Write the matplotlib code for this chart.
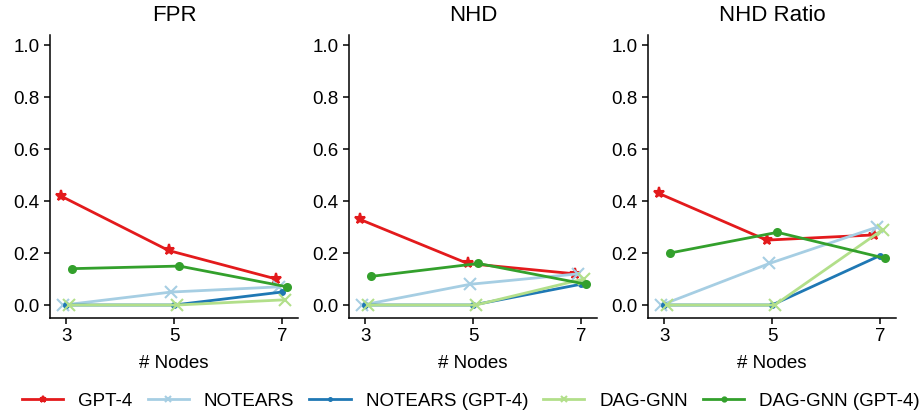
import numpy as np
import matplotlib
matplotlib.use("Agg")
import matplotlib.pyplot as plt

plt.rcParams['font.family'] = ['Liberation Sans', 'DejaVu Sans']

nodes = [3, 5, 7]
metrics = ["FPR", "NHD", "NHD Ratio"]
methods = ["GPT-4", "NOTEARS", "NOTEARS (GPT-4)", "DAG-GNN", "DAG-GNN (GPT-4)"]

fpr = {
    "GPT-4": [0.42, 0.21, 0.10],
    "NOTEARS": [0.00, 0.05, 0.07],
    "NOTEARS (GPT-4)": [0.00, 0.00, 0.05],
    "DAG-GNN": [0.00, 0.00, 0.02],
    "DAG-GNN (GPT-4)": [0.14, 0.15, 0.07],
}
nhd = {
    "GPT-4": [0.33, 0.16, 0.12],
    "NOTEARS": [0.00, 0.08, 0.12],
    "NOTEARS (GPT-4)": [0.00, 0.00, 0.08],
    "DAG-GNN": [0.00, 0.00, 0.10],
    "DAG-GNN (GPT-4)": [0.11, 0.16, 0.08],
}
nhd_ratio = {
    "GPT-4": [0.43, 0.25, 0.27],
    "NOTEARS": [0.00, 0.16, 0.30],
    "NOTEARS (GPT-4)": [0.00, 0.00, 0.19],
    "DAG-GNN": [0.00, 0.00, 0.29],
    "DAG-GNN (GPT-4)": [0.20, 0.28, 0.18],
}
panels = [fpr, nhd, nhd_ratio]

colors = ["#e31a1c", "#a6cee3", "#1f78b4", "#b2df8a", "#33a02c"]
markers = ["*", "x", ".", "x", "o"]
msizes = [8, 8, 7, 8, 5]
offsets = [-0.1, -0.05, 0.0, 0.05, 0.1]

fig = plt.figure(figsize=(9.24, 4.15), dpi=100)
W, H = 924, 415
lefts = [50, 349, 648]
aw = 248
top, bottom = 35, 318

handles = []
for i, (metric, data) in enumerate(zip(metrics, panels)):
    ax = fig.add_axes([lefts[i] / W, 1 - bottom / H, aw / W, (bottom - top) / H])
    for j, m in enumerate(methods):
        x = np.array(nodes) + offsets[j]
        h, = ax.plot(x, data[m], color=colors[j], marker=markers[j], ms=msizes[j],
                     lw=2, mew=1.5, label=m)
        if i == 0:
            handles.append(h)
    ax.set_xlim(2.7, 7.3)
    ax.set_ylim(-0.05, 1.04)
    ax.set_xticks(nodes)
    ax.set_yticks([0.0, 0.2, 0.4, 0.6, 0.8, 1.0])
    ax.set_yticklabels(["0.0", "0.2", "0.4", "0.6", "0.8", "1.0"])
    ax.set_title(metric, fontsize=16, pad=10)
    ax.set_xlabel("# Nodes", fontsize=13.5, labelpad=7)
    ax.tick_params(labelsize=13.5, length=4, width=1.1, direction="out")
    for s in ["top", "right"]:
        ax.spines[s].set_visible(False)
    for s in ["left", "bottom"]:
        ax.spines[s].set_linewidth(1.1)

fig.legend(handles=handles, labels=methods, loc="center", ncol=5,
           bbox_to_anchor=(0.5 + 9 / W, 1 - 401 / H), frameon=False, fontsize=13.5,
           handlelength=2.2, columnspacing=0.8, handletextpad=0.8,
           markerscale=0.6)

fig.savefig("out.png", dpi=100)
